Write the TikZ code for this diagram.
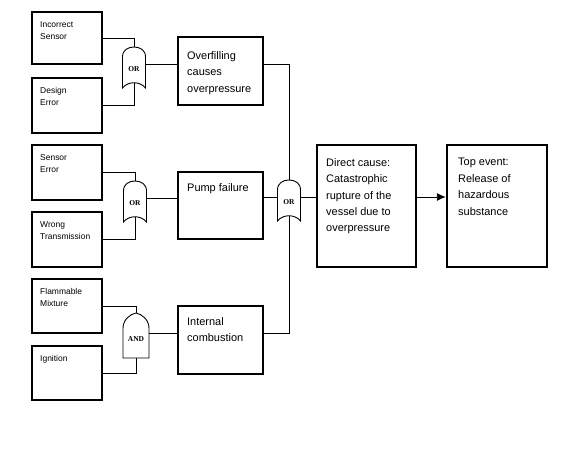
\documentclass[tikz,border=0pt]{standalone}
\usepackage{fontspec}
\setmainfont{Liberation Sans}
\newfontfamily\gatefont{Liberation Serif}
\usetikzlibrary{arrows.meta}

\begin{document}
\begin{tikzpicture}[
        x=1bp, y=-1bp,
        >={Latex[length=9bp, width=8bp]},
        % styles
        baseBlock/.style={rectangle, draw, line width=2.4bp, inner sep=0pt, outer sep=0pt, anchor=north west},
        % event styles
        causeBlock/.style={baseBlock, minimum width=70bp, minimum height=54bp},
        eventBlock/.style={baseBlock, minimum width=85bp, minimum height=68bp},
        topBlock/.style={baseBlock, minimum width=99bp, minimum height=122bp},
        % text styles
        smallTxt/.style={anchor=north west, align=left, inner sep=0pt, xshift=8bp, yshift=-9bp, font=\fontsize{8.5}{12.5}\selectfont},
        bigTxt/.style={anchor=north west, align=left, inner sep=0pt, xshift=9bp, yshift=-11bp, font=\fontsize{11}{16.5}\selectfont},
        gateTxt/.style={inner sep=0pt, font=\gatefont\bfseries\fontsize{7.5}{8}\selectfont},
        % gate styles
        gateLine/.style={line width=0.9bp, fill=white},
        orGate/.pic={
            \draw [gateLine] (-11.5,21) -- (-11.5,-10)
                .. controls (-11.5,-17) and (-6,-20) .. (0,-20)
                .. controls (6,-20) and (11.5,-17) .. (11.5,-10)
                -- (11.5,21) .. controls (6,14) and (-6,14) .. cycle;
            \node [gateTxt] at (0,2) {OR};
            \coordinate (-top) at (0,-20);
            \coordinate (-bot) at (0,16);
            \coordinate (-out) at (11.5,-3);
            \coordinate (-in) at (-11.5,-3);
        },
        andGate/.pic={
            \draw [gateLine] (-13,22) -- (-13,-8)
                .. controls (-13,-16) and (-6,-22) .. (0,-23)
                .. controls (6,-22) and (13,-16) .. (13,-8)
                -- (13,22) -- cycle;
            \node [gateTxt] at (0,3) {AND};
            \coordinate (-top) at (0,-23);
            \coordinate (-bot) at (0,22);
            \coordinate (-out) at (13,-3);
        },
        conn/.style={line width=0.9bp, draw=black}
    ]

    \useasboundingbox (0,0) rectangle (566,452);

    % nodes

    % column 1: basic causes
    \node [causeBlock, minimum height=52bp, label={[smallTxt]north west:{Incorrect\\Sensor}}] (incorrect) at (32,12) {};
    \node [causeBlock, minimum height=55bp, label={[smallTxt]north west:{Design\\Error}}] (design) at (32,78) {};
    \node [causeBlock, minimum height=55bp, label={[smallTxt]north west:{Sensor\\Error}}] (sensor) at (32,145) {};
    \node [causeBlock, minimum height=55bp, label={[smallTxt]north west:{Wrong\\Transmission}}] (wrong) at (32,212) {};
    \node [causeBlock, label={[smallTxt]north west:{Flammable\\Mixture}}] (flammable) at (32,279) {};
    \node [causeBlock, label={[smallTxt]north west:{Ignition}}] (ignition) at (32,346) {};

    % column 2: gates
    \pic (gA) at (134,67) {orGate};
    \pic (gB) at (135,201) {orGate};
    \pic (gC) at (136,336) {andGate};

    % column 3: intermediate events
    \node [eventBlock, label={[bigTxt, yshift=-3bp]north west:{Overfilling\\causes\\overpressure}}] (overfill) at (178,37) {};
    \node [eventBlock, minimum height=67bp, label={[bigTxt]north west:{Pump failure}}] (pump) at (178,172) {};
    \node [eventBlock, label={[bigTxt]north west:{Internal\\combustion}}] (combust) at (178,306) {};

    % column 4: main gate, direct cause and top event
    \pic (gD) at (289,200) {orGate};
    \node [topBlock, label={[bigTxt, yshift=-2bp]north west:{Direct cause:\\Catastrophic\\rupture of the\\vessel due to\\overpressure}}] (direct) at (317,145) {};
    \node [topBlock, minimum width=100bp, label={[bigTxt, xshift=2bp, yshift=-2bp]north west:{Top event:\\Release of\\hazardous\\substance}}] (topev) at (447,145) {};

    % connections

    % inputs of the first gates
    \draw [conn] (incorrect.east) -| (gA-top);
    \draw [conn] (design.east) -| (gA-bot);
    \draw [conn] (sensor.east) -| (gB-top);
    \draw [conn] (wrong.east) -| (gB-bot);
    \draw [conn] (flammable.east) -| (gC-top);
    \draw [conn] (ignition.east) -| (gC-bot);

    % gates to intermediate events
    \draw [conn] (gA-out) -- (gA-out -| overfill.west);
    \draw [conn] (gB-out) -- (gB-out -| pump.west);
    \draw [conn] (gC-out) -- (gC-out -| combust.west);

    % intermediate events to main gate
    \draw [conn] (gA-out -| overfill.east) -| (gD-top);
    \draw [conn] (gD-in -| pump.east) -- (gD-in);
    \draw [conn] (gC-out -| combust.east) -| (gD-bot);

    % direct cause to top event
    \draw [conn] (gD-out) -- (gD-out -| direct.west);
    \draw [conn, ->, shorten >=1.2bp] (gD-out -| direct.east) -- (gD-out -| topev.west);

\end{tikzpicture}
\end{document}
